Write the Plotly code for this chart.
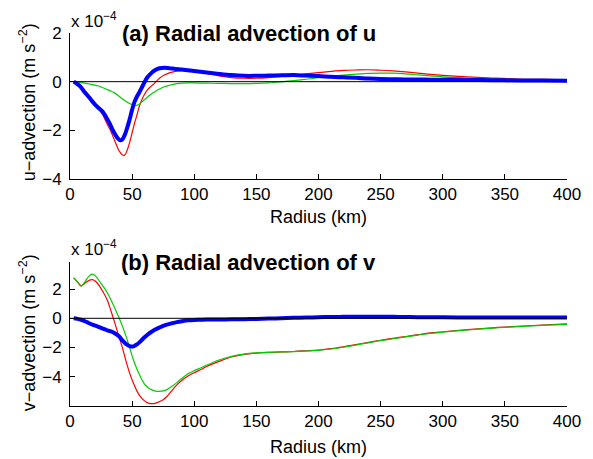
import plotly.graph_objects as go

# ---------------- data (units of 1e-4 m s^-2) ----------------
r_u = [3, 5, 8, 11, 14, 17, 20, 23, 26, 29, 32, 35, 38, 40, 42, 44, 46, 48, 50, 52,
       54, 56, 58, 60, 62, 65, 68, 72, 76, 80, 85, 90, 95, 100, 110, 120, 130, 140,
       150, 160, 170, 180, 190, 200, 210, 220, 230, 240, 250, 260, 270, 280, 290,
       300, 320, 340, 360, 380, 400]

u_red = [0, -0.06, -0.2, -0.4, -0.6, -0.78, -0.96, -1.12, -1.33, -1.65, -1.95, -2.3,
         -2.68, -2.88, -3.0, -3.02, -2.82, -2.5, -2.1, -1.7, -1.35, -0.98, -0.72,
         -0.52, -0.36, -0.2, -0.07, 0.14, 0.27, 0.36, 0.42, 0.45, 0.45, 0.43, 0.34,
         0.24, 0.17, 0.14, 0.14, 0.17, 0.22, 0.27, 0.32, 0.37, 0.42, 0.46, 0.48,
         0.49, 0.47, 0.44, 0.4, 0.35, 0.3, 0.26, 0.2, 0.15, 0.11, 0.09, 0.07]

u_green = [0, -0.01, -0.03, -0.05, -0.08, -0.11, -0.14, -0.18, -0.24, -0.3, -0.37,
           -0.44, -0.54, -0.62, -0.7, -0.77, -0.84, -0.9, -0.94, -0.97, -0.97, -0.92,
           -0.83, -0.74, -0.65, -0.53, -0.42, -0.3, -0.21, -0.15, -0.09, -0.06, -0.05,
           -0.05, -0.06, -0.07, -0.08, -0.08, -0.07, -0.05, -0.01, 0.04, 0.1, 0.16,
           0.22, 0.27, 0.31, 0.34, 0.35, 0.35, 0.32, 0.28, 0.24, 0.2, 0.15, 0.11,
           0.08, 0.06, 0.04]

u_blue = [0, -0.06, -0.18, -0.38, -0.56, -0.75, -0.93, -1.08, -1.22, -1.45, -1.73,
          -2.05, -2.3, -2.4, -2.38, -2.2, -1.9, -1.55, -1.15, -0.82, -0.6, -0.42,
          -0.22, -0.02, 0.16, 0.33, 0.46, 0.55, 0.57, 0.55, 0.52, 0.5, 0.47, 0.44,
          0.38, 0.32, 0.27, 0.24, 0.24, 0.25, 0.26, 0.27, 0.25, 0.23, 0.2, 0.18,
          0.16, 0.13, 0.11, 0.1, 0.09, 0.09, 0.08, 0.08, 0.07, 0.06, 0.05, 0.05, 0.04]

r_v = [3, 6, 9, 12, 15, 18, 21, 24, 27, 30, 33, 36, 39, 42, 45, 48, 51, 54, 57, 60,
       63, 66, 69, 72, 75, 78, 82, 86, 90, 95, 100, 105, 110, 120, 130, 140, 150,
       160, 170, 180, 190, 200, 210, 220, 230, 240, 250, 260, 270, 280, 290, 300,
       320, 340, 360, 380, 400]

v_red = [2.77, 2.5, 2.22, 2.4, 2.58, 2.65, 2.5, 2.17, 1.75, 1.25, 0.5, -0.3, -1.15,
         -1.95, -2.9, -3.75, -4.43, -5.0, -5.4, -5.65, -5.8, -5.84, -5.8, -5.7,
         -5.57, -5.35, -4.95, -4.55, -4.25, -3.95, -3.72, -3.52, -3.3, -2.95, -2.65,
         -2.47, -2.38, -2.33, -2.3, -2.27, -2.22, -2.17, -2.08, -1.95, -1.8, -1.65,
         -1.5, -1.37, -1.25, -1.12, -1.0, -0.92, -0.78, -0.65, -0.55, -0.46, -0.38]

v_green = [2.77, 2.48, 2.2, 2.5, 2.85, 3.02, 2.85, 2.5, 2.15, 1.75, 1.25, 0.7, 0.12,
           -0.5, -1.2, -2.0, -2.84, -3.5, -4.05, -4.5, -4.75, -4.9, -4.98, -5.0,
           -4.97, -4.88, -4.65, -4.4, -4.12, -3.8, -3.58, -3.4, -3.2, -2.85, -2.6,
           -2.45, -2.37, -2.33, -2.3, -2.28, -2.24, -2.19, -2.1, -1.98, -1.83, -1.68,
           -1.53, -1.4, -1.27, -1.15, -1.03, -0.95, -0.8, -0.67, -0.57, -0.48, -0.41]

v_blue = [0, -0.04, -0.1, -0.2, -0.32, -0.43, -0.52, -0.62, -0.73, -0.82, -0.9, -1.02,
          -1.2, -1.5, -1.75, -1.9, -1.92, -1.78, -1.55, -1.3, -1.08, -0.9, -0.75,
          -0.63, -0.52, -0.43, -0.34, -0.26, -0.2, -0.14, -0.11, -0.1, -0.09, -0.08,
          -0.07, -0.06, -0.04, -0.02, 0.0, 0.03, 0.05, 0.07, 0.09, 0.1, 0.11, 0.11,
          0.1, 0.1, 0.09, 0.08, 0.08, 0.07, 0.06, 0.06, 0.05, 0.05, 0.05]

baseline_r = [0, 400]
baseline_v = [0, 0]

x_ticks = [0, 50, 100, 150, 200, 250, 300, 350, 400]
u_ticks = [-4, -2, 0, 2]
v_ticks = [-4, -2, 0, 2]

# ---------------- figure ----------------
FONT = "Liberation Sans, Arial, sans-serif"
RED, GREEN, BLUE = "#ff0000", "#00cc00", "#0000ff"

fig = go.Figure()

def add_panel(xa, ya, r, red, green, blue):
    fig.add_trace(go.Scatter(x=r, y=red, mode="lines", line=dict(color=RED, width=1.2, shape="spline"),
                             xaxis=xa, yaxis=ya, showlegend=False))
    fig.add_trace(go.Scatter(x=r, y=green, mode="lines", line=dict(color=GREEN, width=1.2, shape="spline"),
                             xaxis=xa, yaxis=ya, showlegend=False))
    fig.add_trace(go.Scatter(x=r, y=blue, mode="lines", line=dict(color=BLUE, width=4, shape="spline"),
                             xaxis=xa, yaxis=ya, showlegend=False))
    fig.add_trace(go.Scatter(x=baseline_r, y=baseline_v, mode="lines", line=dict(color="black", width=1),
                             xaxis=xa, yaxis=ya, showlegend=False))

add_panel("x", "y", r_u, u_red, u_green, u_blue)
add_panel("x2", "y2", r_v, v_red, v_green, v_blue)

axis_common = dict(showline=True, linecolor="black", linewidth=1, ticks="inside", ticklen=5,
                   tickcolor="black", showgrid=False, zeroline=False, mirror=False,
                   tickfont=dict(family=FONT, size=17, color="black"))

fig.update_layout(
    width=593, height=459,
    margin=dict(l=70, r=26, t=33, b=53),
    paper_bgcolor="white", plot_bgcolor="white",
    xaxis=dict(domain=[0, 1], anchor="y", range=[0, 400], tickvals=x_ticks, **axis_common),
    yaxis=dict(domain=[0.6086, 1.0], anchor="x", range=[-4, 2], tickvals=u_ticks,
               ticklabelstandoff=4, **axis_common),
    xaxis2=dict(domain=[0, 1], anchor="y2", range=[0, 400], tickvals=x_ticks, **axis_common),
    yaxis2=dict(domain=[0, 0.386], anchor="x2", range=[-6.0, 3.85], tickvals=v_ticks,
                ticklabelstandoff=4, **axis_common),
)

ann_font = dict(family=FONT, size=18, color="black")
title_font = dict(family=FONT, size=22, color="black")
exp_font = dict(family=FONT, size=17, color="black")
annotations = [
    dict(text="<b>(a) Radial advection of u</b>", x=0.360, y=1.0, xref="paper", yref="paper",
         xanchor="center", yanchor="middle", showarrow=False, font=title_font),
    dict(text="<b>(b) Radial advection of v</b>", x=0.360, y=0.386, xref="paper", yref="paper",
         xanchor="center", yanchor="middle", showarrow=False, font=title_font),
    dict(text="x 10<sup>−4</sup>", x=-0.002, y=1.035, xref="paper", yref="paper",
         xanchor="left", yanchor="middle", showarrow=False, font=exp_font),
    dict(text="x 10<sup>−4</sup>", x=-0.002, y=0.424, xref="paper", yref="paper",
         xanchor="left", yanchor="middle", showarrow=False, font=exp_font),
    dict(text="Radius (km)", x=0.5, y=0.5075, xref="paper", yref="paper",
         xanchor="center", yanchor="middle", showarrow=False, font=ann_font),
    dict(text="Radius (km)", x=0.5, y=-0.11, xref="paper", yref="paper",
         xanchor="center", yanchor="middle", showarrow=False, font=ann_font),
    dict(text="u−advection (m s<sup>−2</sup>)", x=-0.085, y=0.8137, xref="paper", yref="paper",
         xanchor="center", yanchor="middle", textangle=-90, showarrow=False, font=ann_font),
    dict(text="v−advection (m s<sup>−2</sup>)", x=-0.085, y=0.197, xref="paper", yref="paper",
         xanchor="center", yanchor="middle", textangle=-90, showarrow=False, font=ann_font),
]
fig.update_layout(annotations=annotations)

fig.write_html("out.html")
